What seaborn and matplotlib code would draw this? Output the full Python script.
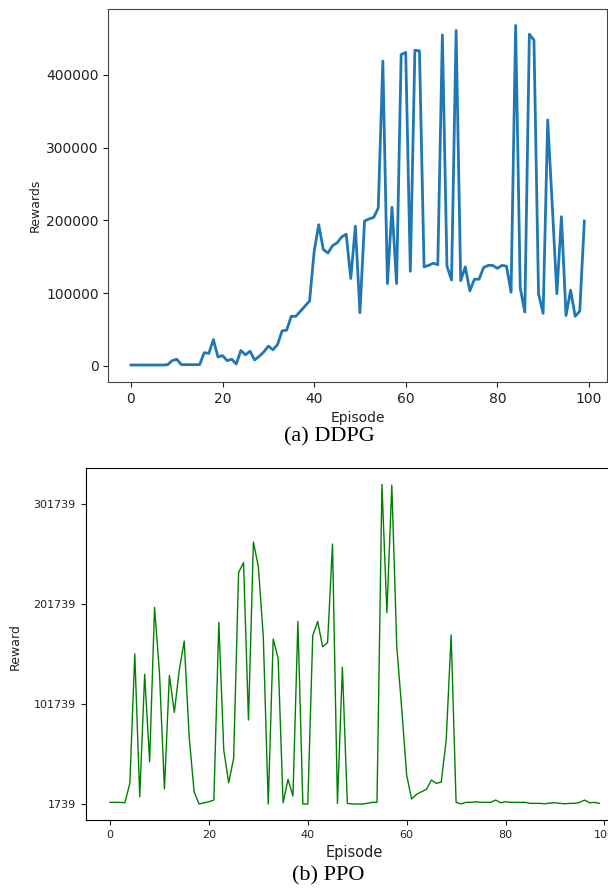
import matplotlib
matplotlib.use("Agg")
import matplotlib.pyplot as plt
import seaborn as sns
import pandas as pd
import numpy as np

# ---------------- data ----------------
ddpg_episodes = list(range(100))
ddpg_rewards = [
    1000, 1000, 1000, 1000, 1000, 1000, 1000, 1000, 1500, 7000,
    9000, 1500, 1500, 1500, 1500, 1500, 18000, 17000, 36000, 12000,
    14000, 7000, 9000, 2500, 21000, 15000, 20000, 8000, 13000, 19000,
    27000, 22000, 29000, 48000, 49000, 68000, 68000, 75000, 82000, 89000,
    157000, 194000, 160000, 155000, 165000, 169000, 177000, 181000, 120000, 192000,
    73000, 199000, 202000, 204000, 217000, 419000, 113000, 218000, 113000, 428000,
    431000, 130000, 434000, 433000, 136000, 138000, 141000, 139000, 455000, 137000,
    118000, 461000, 117000, 136000, 103000, 119000, 119000, 135000, 138000, 138000,
    134000, 138000, 137000, 101000, 468000, 107000, 74000, 456000, 448000, 99000,
    72000, 338000, 220000, 99000, 205000, 69000, 104000, 68000, 75000, 199000,
]

ppo_episodes = list(range(100))
ppo_rewards = [
    3400, 3400, 3400, 3000, 22400, 151700, 9000, 131300, 44000, 198200,
    132300, 16700, 130300, 93300, 135600, 164600, 69000, 14000, 1739, 3000,
    4000, 5700, 183200, 55700, 23000, 47400, 233000, 243000, 85700, 263500,
    238800, 168900, 1739, 166600, 147300, 3000, 26400, 9700, 184200, 1739,
    1739, 169900, 184200, 158900, 162900, 261500, 2400, 138300, 2400, 1739,
    1739, 1739, 2400, 3400, 3400, 321000, 192900, 320400, 158900, 97300,
    30700, 6700, 11400, 14000, 16400, 25700, 22400, 23700, 65700, 170600,
    3400, 2000, 3400, 3400, 4000, 3400, 3400, 3400, 5700, 3000,
    4000, 3400, 3400, 3400, 3400, 2400, 2400, 2400, 2000, 2700,
    3000, 2400, 2000, 2400, 2400, 3400, 5700, 3000, 3400, 2400,
]
ppo_yticks = [1739, 101739, 201739, 301739]

captions = ["(a) DDPG", "(b) PPO"]

df_ddpg = pd.DataFrame({"Episode": ddpg_episodes, "Rewards": ddpg_rewards})
df_ppo = pd.DataFrame({"Episode": ppo_episodes, "Reward": ppo_rewards})

# ---------------- figure ----------------
W, H = 608, 893
fig = plt.figure(figsize=(W / 100, H / 100), dpi=100)

def px_axes(left, top, right, bottom):
    return fig.add_axes([left / W, (H - bottom) / H, (right - left) / W, (bottom - top) / H])

# Top panel (DDPG)
ax1 = px_axes(108.3, 8.5, 607, 382)
sns.lineplot(data=df_ddpg, x="Episode", y="Rewards", ax=ax1, color="#1f77b4", linewidth=2)
ax1.margins(x=0.05, y=0.05)
ax1.tick_params(labelsize=10, colors="#222222")
ax1.set_xlabel("Episode", fontsize=10, color="#222222")
ax1.set_ylabel("Rewards", fontsize=9, color="#222222", va="center")
ax1.yaxis.set_label_coords(-0.147, 0.474)
for s in ax1.spines.values():
    s.set_color("#444444")

# Bottom panel (PPO)
ax2 = px_axes(85.6, 468.5, 623.9, 820)
sns.lineplot(data=df_ppo, x="Episode", y="Reward", ax=ax2, color="green", linewidth=1)
ax2.margins(x=0.05, y=0.05)
ax2.set_yticks(ppo_yticks)
ax2.set_yticklabels([str(v) for v in ppo_yticks])
ax2.tick_params(labelsize=8, colors="#222222")
ax2.set_xlabel("Episode", fontsize=10.5, color="#222222")
ax2.set_ylabel("Reward", fontsize=9, color="#222222", va="center")
ax2.yaxis.set_label_coords(-0.130, 0.493)

# Captions
fig.text(329 / W, 1 - 437 / H, captions[0], ha="center", va="center",
         fontsize=16, family="Liberation Serif")
fig.text(328 / W, 1 - 876 / H, captions[1], ha="center", va="center",
         fontsize=16, family="Liberation Serif")

fig.savefig("out.png", dpi=100)
